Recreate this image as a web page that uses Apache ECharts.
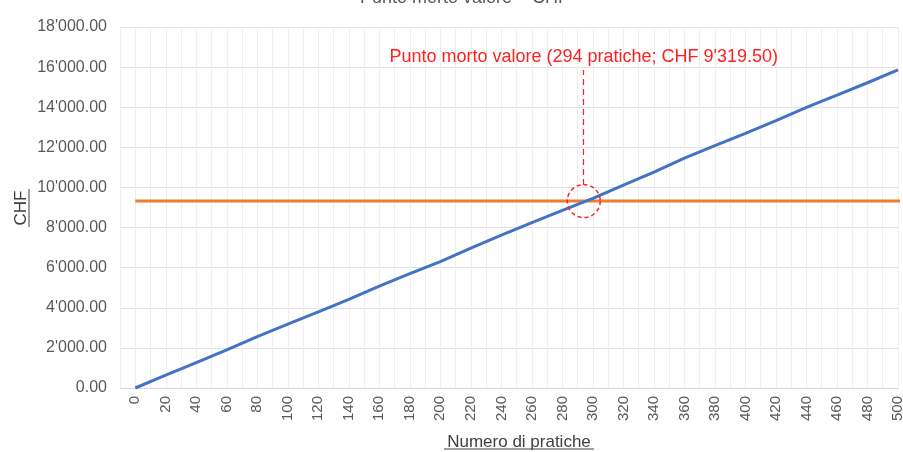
<!DOCTYPE html>
<html lang="it">
<head>
    <meta charset="UTF-8">
    <title>Punto morto valore</title>
    <script src="https://cdn.jsdelivr.net/npm/echarts@6/dist/echarts.min.js"></script>
    <style>
        html, body { margin: 0; padding: 0; background: #fff; }
        #main { width: 903px; height: 452px; }
    </style>
</head>
<body>
<div id="main"></div>
<script>
    // dati
    let pratiche = [0, 20, 40, 60, 80, 100, 120, 140, 160, 180, 200, 220, 240, 260, 280, 300, 320, 340, 360, 380, 400, 420, 440, 460, 480, 500];
    let ricavi = [0, 640, 1270, 1900, 2560, 3180, 3800, 4420, 5080, 5700, 6300, 6980, 7620, 8250, 8860, 9460, 10120, 10760, 11460, 12080, 12700, 13330, 13990, 14600, 15220, 15860];
    let costiFissi = 9319.5;
    let puntoMorto = [294, 9319.5];
    let yTicks = [0, 2000, 4000, 6000, 8000, 10000, 12000, 14000, 16000, 18000];

    let fmtCHF = (v) => {
        let s = Math.abs(v).toFixed(2);
        let parts = s.split('.');
        parts[0] = parts[0].replace(/\B(?=(\d{3})+(?!\d))/g, "'");
        return (v < 0 ? '-' : '') + parts.join('.');
    };

    let myChart = echarts.init(document.getElementById('main'));
    let font = 'Liberation Sans, Arial, sans-serif';
    let rosso = '#ff2020';

    let option = {
        animation: false,
        textStyle: {fontFamily: font},
        title: {
            text: 'Punto morto valore \u2013 CHF',
            left: 355,
            top: -16,
            textStyle: {fontSize: 18, fontWeight: 'normal', color: '#595959', fontFamily: font}
        },
        grid: {left: 120, right: 5, top: 27, bottom: 64, outerBoundsMode: 'none', containLabel: false},
        xAxis: {
            type: 'value',
            min: -10,
            max: 500,
            interval: 10,
            axisLine: {show: true, lineStyle: {color: '#d9d9d9'}},
            axisTick: {show: false},
            splitLine: {show: true, lineStyle: {color: '#efefef'}},
            axisLabel: {
                rotate: 90,
                fontSize: 15,
                color: '#595959',
                margin: 8,
                showMaxLabel: true,
                formatter: (v) => (v >= 0 && v % 20 === 0) ? String(v) : ''
            },
            name: 'Numero di pratiche',
            nameLocation: 'middle',
            nameGap: 46,
            nameTextStyle: {fontSize: 17, color: '#404040', fontFamily: font, padding: [0, 0, 0, 20]}
        },
        yAxis: {
            type: 'value',
            min: yTicks[0],
            max: yTicks[yTicks.length - 1],
            interval: 2000,
            axisLine: {show: false},
            axisTick: {show: false},
            splitLine: {show: true, lineStyle: {color: '#e3e3e3'}},
            axisLabel: {fontSize: 16, color: '#595959', margin: 13, formatter: fmtCHF}
        },
        series: [
            {
                name: 'Ricavi',
                type: 'line',
                data: pratiche.map((p, i) => [p, ricavi[i]]),
                symbol: 'none',
                lineStyle: {color: '#4472c4', width: 3},
                z: 3,
                markLine: {
                    silent: true,
                    symbol: 'none',
                    lineStyle: {type: [6, 4], color: rosso, width: 1.2},
                    label: {
                        show: true,
                        position: 'end',
                        distance: 4,
                        color: rosso,
                        fontSize: 18,
                        fontFamily: font,
                        formatter: 'Punto morto valore (' + puntoMorto[0] + ' pratiche; CHF ' + fmtCHF(puntoMorto[1]) + ')'
                    },
                    data: [[{coord: [puntoMorto[0], puntoMorto[1] + 800]}, {coord: [puntoMorto[0], 15850]}]]
                }
            },
            {
                name: 'Costi',
                type: 'line',
                data: [[pratiche[0], costiFissi], [pratiche[pratiche.length - 1] + 10, costiFissi]],
                symbol: 'none',
                lineStyle: {color: '#ed7d31', width: 3},
                z: 2,
                markPoint: {
                    silent: true,
                    symbol: 'circle',
                    symbolSize: 33,
                    itemStyle: {color: 'rgba(0,0,0,0)', borderColor: rosso, borderWidth: 1.5, borderType: [4, 3]},
                    label: {show: false},
                    data: [{coord: puntoMorto}]
                }
            }
        ],
        graphic: [
            // titolo asse y (ruotato) e sottolineature
            {
                type: 'text', x: 21, y: 208, rotation: Math.PI / 2,
                style: {text: 'CHF', fill: '#404040', font: '17px ' + font, align: 'center', verticalAlign: 'middle'}
            },
            {type: 'line', shape: {x1: 29, y1: 189, x2: 29, y2: 227}, style: {stroke: '#404040', lineWidth: 1}},
            {type: 'line', shape: {x1: 444, y1: 449, x2: 594, y2: 449}, style: {stroke: '#404040', lineWidth: 1}}
        ]
    };
    myChart.setOption(option);
</script>
</body>
</html>
